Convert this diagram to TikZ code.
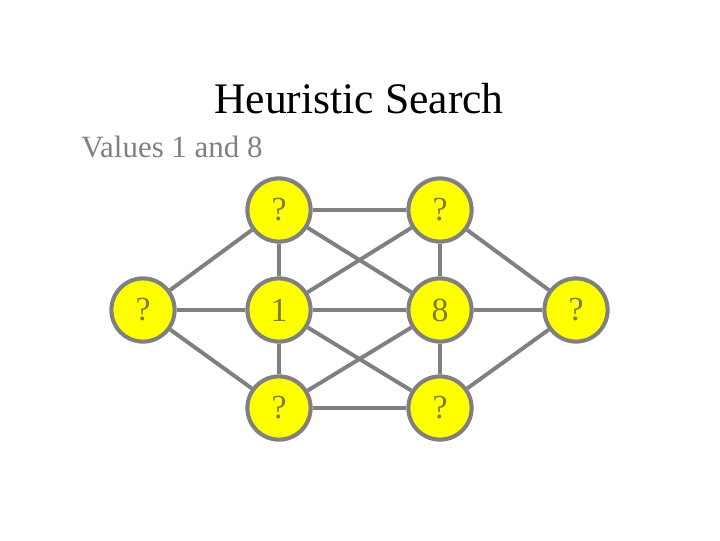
\documentclass[tikz,border=0pt]{standalone}
\usepackage{fontspec}
\setmainfont{Liberation Serif}
\usetikzlibrary{positioning}

\definecolor{linegray}{RGB}{128,128,128}
\definecolor{nodeyellow}{RGB}{255,255,0}
\definecolor{digitolive}{RGB}{125,125,55}

\tikzset{
    hnode/.style={draw=linegray, circle, line width=2.9pt, fill=nodeyellow, minimum size=1.58cm, inner sep=0pt, text=digitolive, font=\fontsize{24}{24}\selectfont},
    hedge/.style={draw=linegray, line width=2.8pt}
}

\begin{document}
\begin{tikzpicture}[x=0.025cm, y=-0.025cm]
        \useasboundingbox (0,0) rectangle (720,540);
        \node[anchor=base, font=\fontsize{31}{31}\selectfont] (title) at (359,113) {Heuristic Search};
        \node[anchor=base west, inner sep=0pt, text=linegray, font=\fontsize{22}{22}\selectfont] (sub) at (81,157) {Values 1 and 8};
        % the eight nodes
        \node[hnode] (L) at (143,310) {?};
        \node[hnode] (TL) at (279,210) {?};
        \node[hnode] (ML) at (279,310) {1};
        \node[hnode] (BL) at (279,408) {?};
        \node[hnode] (TR) at (440,210) {?};
        \node[hnode] (MR) at (440,310) {8};
        \node[hnode] (BR) at (440,408) {?};
        \node[hnode] (R) at (576,310) {?};
        % connections
        \foreach \a/\b in {L/TL, L/ML, L/BL, TL/ML, ML/BL, TL/TR, ML/MR, BL/BR,
                           TL/MR, ML/TR, ML/BR, BL/MR, TR/MR, MR/BR, TR/R, MR/R, BR/R}
            \draw[hedge] (\a) -- (\b);
    \end{tikzpicture}
\end{document}
